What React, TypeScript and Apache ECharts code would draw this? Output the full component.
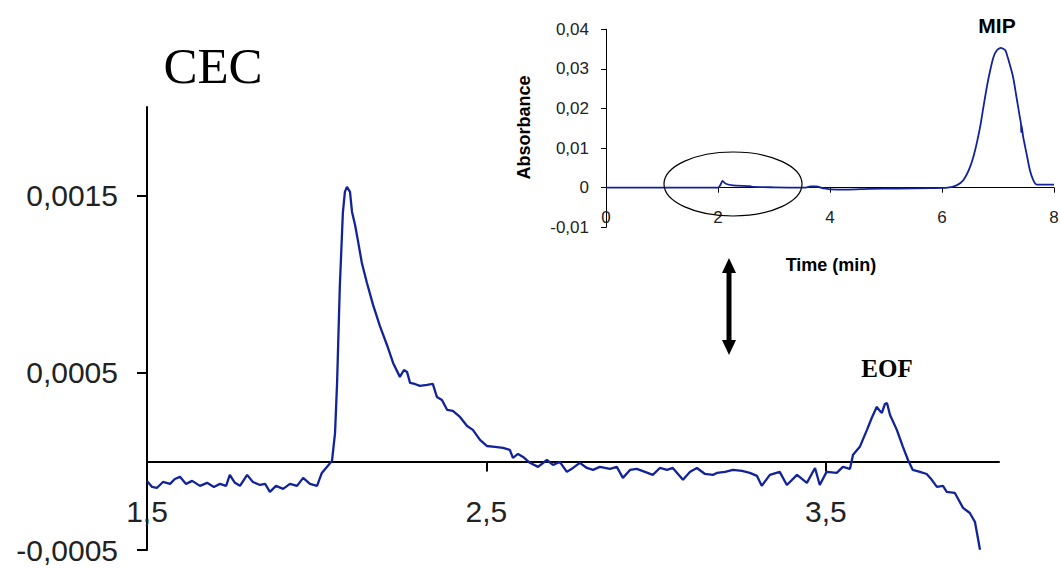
import React, { useEffect, useRef } from "react";
import * as echarts from "echarts";

// Main CEC trace (time in min, absorbance)
const cecTime = [
  1.5, 1.515, 1.529, 1.547, 1.568, 1.582, 1.597, 1.615, 1.633, 1.656, 1.677, 1.697, 1.715, 1.733, 1.744, 1.759,
  1.774, 1.795, 1.812, 1.833, 1.848, 1.862, 1.88, 1.901, 1.921, 1.942, 1.96, 1.98, 2.001, 2.015, 2.033, 2.045,
  2.054, 2.06, 2.068, 2.077, 2.083, 2.089, 2.098, 2.104, 2.113, 2.121, 2.133, 2.148, 2.166, 2.186, 2.207, 2.225,
  2.245, 2.257, 2.266, 2.275, 2.289, 2.304, 2.325, 2.342, 2.354, 2.369, 2.384, 2.401, 2.422, 2.443, 2.46, 2.481,
  2.501, 2.525, 2.549, 2.569, 2.578, 2.593, 2.608, 2.628, 2.652, 2.678, 2.696, 2.716, 2.737, 2.755, 2.775, 2.796,
  2.814, 2.834, 2.864, 2.884, 2.902, 2.923, 2.943, 2.967, 2.99, 3.011, 3.032, 3.049, 3.079, 3.1, 3.12, 3.144,
  3.167, 3.179, 3.203, 3.226, 3.253, 3.276, 3.297, 3.311, 3.335, 3.364, 3.385, 3.415, 3.444, 3.468, 3.482, 3.502,
  3.532, 3.55, 3.571, 3.58, 3.6, 3.621, 3.635, 3.65, 3.659, 3.665, 3.674, 3.68, 3.689, 3.709, 3.727, 3.742,
  3.756, 3.777, 3.797, 3.812, 3.827, 3.845, 3.856, 3.88, 3.904, 3.924, 3.939, 3.945, 3.954,
];
const cecAbs = [
  -0.00011, -0.000144, -0.00015, -0.000116, -0.000127, -0.000099, -0.000087, -0.000127, -0.00011, -0.000138,
  -0.000121, -0.000144, -0.000127, -0.000138, -0.000076, -0.000121, -0.000138, -0.000076, -0.000116, -0.000133,
  -0.000127, -0.000172, -0.000138, -0.000155, -0.000127, -0.000138, -0.000093, -0.000127, -0.000138, -0.000065,
  -0.000025, 0.000003, 0.000161, 0.000443, 0.000985, 0.001402, 0.001521, 0.001549, 0.001521, 0.001408,
  0.001334, 0.00125, 0.00112, 0.001007, 0.000883, 0.000765, 0.000657, 0.000556, 0.000477, 0.000516,
  0.000505, 0.000443, 0.000437, 0.000426, 0.000432, 0.000437, 0.000364, 0.000347, 0.000291, 0.000285,
  0.000251, 0.0002, 0.000178, 0.000121, 0.000087, 0.000082, 0.000076, 0.000065, 0.00002, 0.000042,
  0.000025, -0.000008, -0.000031, 0.000008, -0.00002, -0.000003, -0.000059, -0.000037, -0.000008, -0.000037,
  -0.000048, -0.000031, -0.000042, -0.000031, -0.000093, -0.000048, -0.000042, -0.000059, -0.000076, -0.000037,
  -0.000048, -0.000037, -0.000104, -0.000059, -0.000037, -0.000071, -0.000076, -0.000065, -0.000059, -0.000048,
  -0.000054, -0.000065, -0.000082, -0.000138, -0.000076, -0.000059, -0.000133, -0.000076, -0.000121, -0.000037,
  -0.000133, -0.000059, -0.000065, -0.000031, -0.000042, 0.000037, 0.000082, 0.000178, 0.000245, 0.000308,
  0.000285, 0.000274, 0.000324, 0.00033, 0.000262, 0.000178, 0.000082, 0.000008, -0.000048, -0.000059,
  -0.000071, -0.000104, -0.000144, -0.000138, -0.000172, -0.000178, -0.000262, -0.000291, -0.000341, -0.000403,
  -0.000499,
];

// Inset full-run trace
const insetTime = [
  0, 1, 2, 2.04, 2.08, 2.14, 2.27, 2.57, 2.63, 3.0, 3.55, 3.65, 3.75, 3.9, 4.0, 4.3, 4.7, 5.2, 5.8, 6.1,
  6.26, 6.38, 6.5, 6.59, 6.68, 6.74, 6.8, 6.86, 6.92, 6.98, 7.05, 7.13, 7.18, 7.27, 7.33, 7.39, 7.41, 7.415,
  7.42, 7.45, 7.51, 7.57, 7.63, 7.69, 8.0,
];
const insetAbs = [
  0, 0, 0, 0.0006, 0.0017, 0.001, 0.0006, 0.0004, 0.0002, 0.0001, 0, 0.0003, 0.0003, -0.0002, -0.0004, -0.0005,
  -0.0003, -0.0002, -0.0001, 0, 0.0006, 0.0019, 0.0052, 0.0094, 0.0153, 0.0204, 0.0254, 0.0296, 0.033, 0.0347,
  0.0353, 0.0347, 0.0326, 0.0279, 0.0229, 0.0178, 0.0162, 0.014, 0.0158, 0.0128, 0.0086, 0.0044, 0.0019,
  0.0008, 0.0008,
];

const mainXLabels = [1.5, 2.5, 3.5];
const mainYLabels = [-0.0005, 0.0005, 0.0015];

const LINE = "#12239a";
const SANS = "'Liberation Sans', Arial, sans-serif";
const SERIF = "'Liberation Serif', 'Times New Roman', serif";

export default function App() {
  const ref = useRef<HTMLDivElement>(null);
  useEffect(() => {
    if (!ref.current) return;
    const chart = echarts.init(ref.current, undefined, { renderer: "svg" });
    const cecData = cecTime.map((t, i) => [t, cecAbs[i]]);
    const insetData = insetTime.map((t, i) => [t, insetAbs[i]]);
    chart.setOption({
      animation: false,
      backgroundColor: "#fff",
      grid: [
        { left: 147, top: 107, width: 852, height: 443, outerBoundsMode: "none", containLabel: false },
        { left: 606, top: 29.3, width: 448, height: 198, outerBoundsMode: "none", containLabel: false },
      ],
      xAxis: [
        {
          type: "value",
          gridIndex: 0,
          min: 1.5,
          max: 4.01,
          axisLine: { onZero: true, lineStyle: { color: "#000", width: 2 } },
          axisTick: { show: true, length: 10, customValues: mainXLabels, lineStyle: { color: "#000", width: 2 } },
          axisLabel: {
            customValues: mainXLabels,
            margin: -54,
            fontSize: 30,
            fontFamily: SANS,
            color: "#222",
            formatter: (v: number) => String(v).replace(".", ","),
          },
          splitLine: { show: false },
        },
        {
          type: "value",
          gridIndex: 1,
          min: 0,
          max: 8,
          interval: 2,
          axisLine: { onZero: true, lineStyle: { color: "#000", width: 1 } },
          axisTick: { show: true, length: 5, lineStyle: { color: "#000", width: 1 } },
          axisLabel: { margin: -18, fontSize: 17, fontFamily: SANS, color: "#222" },
          splitLine: { show: false },
        },
      ],
      yAxis: [
        {
          type: "value",
          gridIndex: 0,
          min: -0.0005,
          max: 0.002,
          axisLine: { show: true, onZero: false, lineStyle: { color: "#000", width: 2 } },
          axisTick: { show: true, length: 10, customValues: mainYLabels, lineStyle: { color: "#000", width: 2 } },
          axisLabel: {
            customValues: mainYLabels,
            margin: 29,
            fontSize: 30,
            fontFamily: SANS,
            color: "#222",
            formatter: (v: number) => v.toFixed(4).replace(".", ","),
          },
          splitLine: { show: false },
        },
        {
          type: "value",
          gridIndex: 1,
          min: -0.01,
          max: 0.04,
          interval: 0.01,
          axisLine: { show: true, onZero: false, lineStyle: { color: "#000", width: 1 } },
          axisTick: { show: true, length: 5, lineStyle: { color: "#000", width: 1 } },
          axisLabel: {
            margin: 17,
            fontSize: 17,
            fontFamily: SANS,
            color: "#222",
            formatter: (v: number) => (Math.abs(v) < 1e-9 ? "0" : v.toFixed(2).replace(".", ",")),
          },
          splitLine: { show: false },
        },
      ],
      series: [
        {
          type: "line",
          xAxisIndex: 0,
          yAxisIndex: 0,
          data: cecData,
          showSymbol: false,
          lineStyle: { color: LINE, width: 2.3 },
          z: 5,
        },
        {
          type: "line",
          xAxisIndex: 1,
          yAxisIndex: 1,
          data: insetData,
          showSymbol: false,
          smooth: 0.2,
          lineStyle: { color: LINE, width: 1.8 },
          z: 5,
        },
      ],
      graphic: [
        {
          type: "text",
          x: 213,
          y: 66,
          style: { text: "CEC", font: `51px ${SERIF}`, fill: "#000", align: "center", verticalAlign: "middle" },
        },
        {
          type: "text",
          x: 887,
          y: 368,
          style: { text: "EOF", font: `bold 25px ${SERIF}`, fill: "#000", align: "center", verticalAlign: "middle" },
        },
        {
          type: "text",
          x: 997,
          y: 25,
          style: { text: "MIP", font: `bold 21px ${SANS}`, fill: "#000", align: "center", verticalAlign: "middle" },
        },
        {
          type: "text",
          x: 523.5,
          y: 127.5,
          rotation: Math.PI / 2,
          style: { text: "Absorbance", font: `bold 18px ${SANS}`, fill: "#000", align: "center", verticalAlign: "middle" },
        },
        {
          type: "text",
          x: 831,
          y: 265,
          style: { text: "Time (min)", font: `bold 18px ${SANS}`, fill: "#000", align: "center", verticalAlign: "middle" },
        },
        {
          type: "ellipse",
          shape: { cx: 733, cy: 184, rx: 69, ry: 32 },
          style: { fill: "none", stroke: "#000", lineWidth: 1.2 },
          z: 10,
        },
        {
          type: "rect",
          shape: { x: 726.5, y: 270, width: 5, height: 72 },
          style: { fill: "#000" },
        },
        {
          type: "polygon",
          shape: { points: [[729, 258], [722, 273], [736, 273]] },
          style: { fill: "#000" },
        },
        {
          type: "polygon",
          shape: { points: [[729, 355], [722, 340], [736, 340]] },
          style: { fill: "#000" },
        },
      ],
    });
    return () => chart.dispose();
  }, []);
  return <div ref={ref} style={{ position: "fixed", left: 0, top: 0, width: 1060, height: 569, background: "#fff" }} />;
}
